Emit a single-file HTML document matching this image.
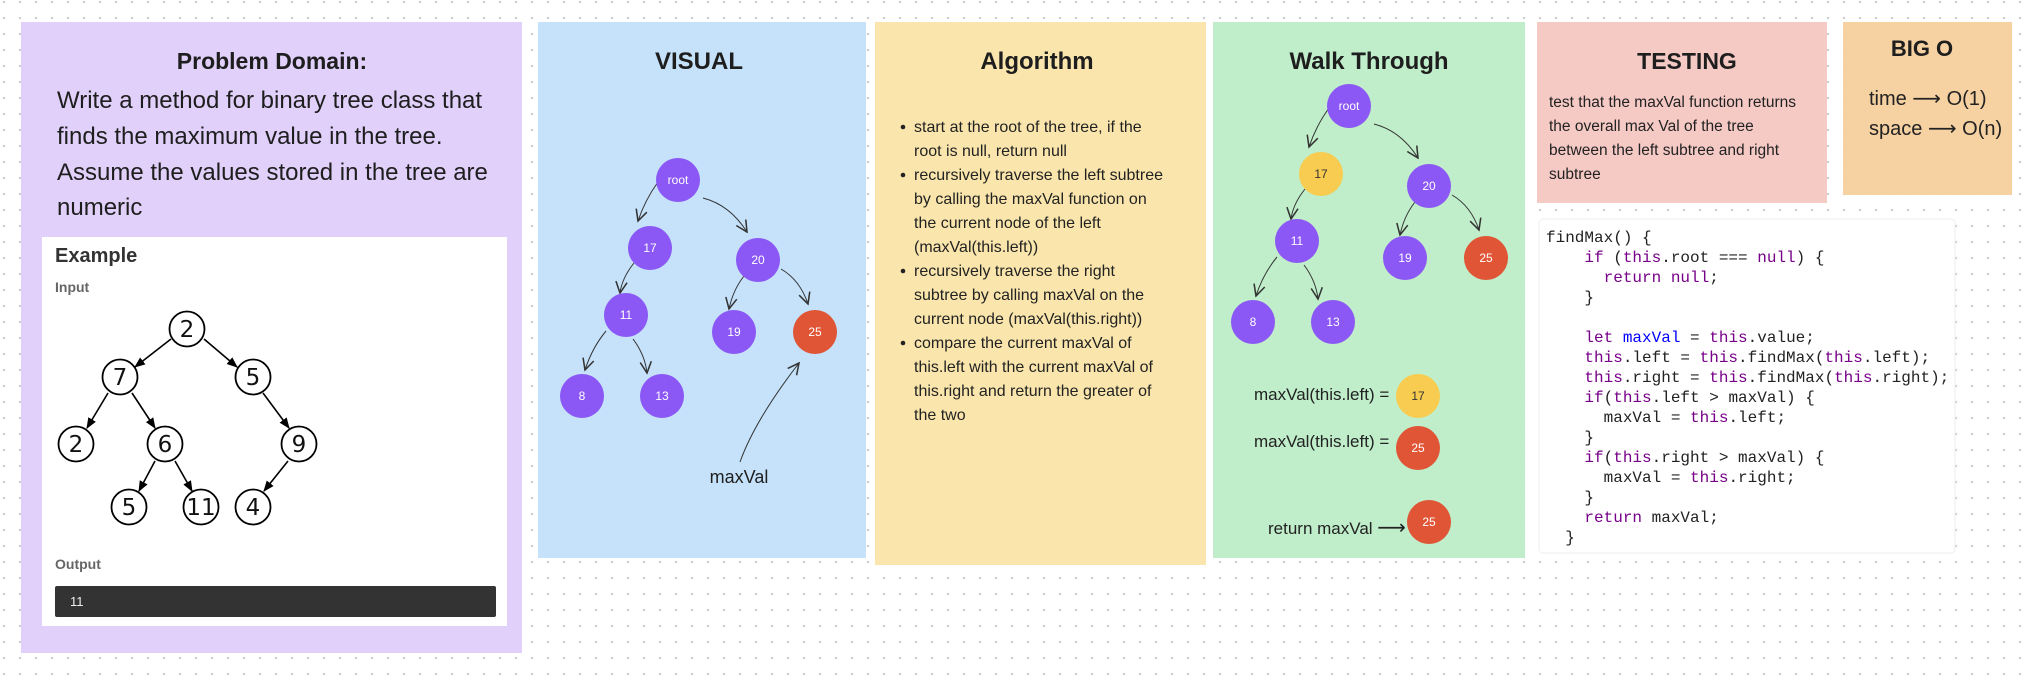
<!DOCTYPE html>
<html><head><meta charset="utf-8"><style>
html,body{margin:0;padding:0;}
body{width:2030px;height:682px;overflow:hidden;background-color:#fff;
background-image:radial-gradient(circle,#cfcfcf 1.1px,transparent 1.4px);
background-size:16px 16px;background-position:-4px -6px;}
svg{position:absolute;left:0;top:0;}
text{font-family:"Liberation Sans",Arial,sans-serif;}
.m text{font-family:"Liberation Mono",monospace;font-size:16px;fill:#222;}
.k{fill:#770088;} .v{fill:#0000ff;}
.nt{fill:#fff;font-size:12px;text-anchor:middle;dominant-baseline:central;}
text.ex{font-family:"DejaVu Sans",sans-serif;font-size:23px;text-anchor:middle;dominant-baseline:central;fill:#111;}
.ar{font-family:"DejaVu Sans",sans-serif;}
</style></head><body>
<svg width="2030" height="682" viewBox="0 0 2030 682">
<defs>
<marker id="oa" viewBox="0 0 10 10" refX="9" refY="5" markerWidth="14" markerHeight="14" orient="auto" markerUnits="userSpaceOnUse">
<path d="M1,1 L9,5 L1,9" fill="none" stroke="#333" stroke-width="1.1"/></marker>
<marker id="fa" viewBox="0 0 10 10" refX="9" refY="5" markerWidth="11" markerHeight="11" orient="auto" markerUnits="userSpaceOnUse">
<path d="M0,1 L10,5 L0,9 Z" fill="#000"/></marker>
<g id="tree">
<g fill="none" stroke="#333" stroke-width="1" marker-end="url(#oa)">
<path d="M658,182 Q645,200 638,221"/>
<path d="M703,198 Q730,205 747,232"/>
<path d="M634,263 Q622,278 620,293"/>
<path d="M744,276 Q733,290 729,309"/>
<path d="M781,269 Q800,280 808,304"/>
<path d="M606,331 Q592,348 585,370"/>
<path d="M633,339 Q645,355 647,373"/>
</g>
</g>
</defs>

<rect x="21" y="22" width="501" height="631" fill="#e0d0fa"/>
<text x="272" y="69" font-size="23" font-weight="bold" text-anchor="middle" fill="#1e1e1e">Problem Domain:</text>
<g font-size="24" fill="#1e1e1e">
<text x="57" y="108">Write a method for binary tree class that</text>
<text x="57" y="144">finds the maximum value in the tree.</text>
<text x="57" y="180">Assume the values stored in the tree are</text>
<text x="57" y="215">numeric</text>
</g>
<rect x="42" y="237" width="465" height="389" fill="#fff"/>
<text x="55" y="262" font-size="20" font-weight="bold" fill="#333">Example</text>
<text x="55" y="292" font-size="14" font-weight="bold" fill="#666">Input</text>
<g stroke="#000" stroke-width="1.6" marker-end="url(#fa)">
<line x1="171" y1="339" x2="135" y2="367"/>
<line x1="204" y1="339" x2="237" y2="367"/>
<line x1="108" y1="393" x2="87" y2="428"/>
<line x1="132" y1="393" x2="155" y2="428"/>
<line x1="263" y1="393" x2="289" y2="428"/>
<line x1="155" y1="461" x2="139" y2="491"/>
<line x1="175" y1="461" x2="192" y2="491"/>
<line x1="288" y1="461" x2="264" y2="491"/>
</g>
<g fill="#fff" stroke="#000" stroke-width="1.8">
<circle cx="187" cy="329" r="17.5"/><circle cx="120" cy="377" r="17.5"/><circle cx="253" cy="377" r="17.5"/>
<circle cx="76" cy="444" r="17.5"/><circle cx="165" cy="444" r="17.5"/><circle cx="299" cy="444" r="17.5"/>
<circle cx="129" cy="507" r="17.5"/><circle cx="201" cy="507" r="17.5"/><circle cx="253" cy="507" r="17.5"/>
</g>
<text class="ex" x="187" y="330">2</text><text class="ex" x="120" y="378">7</text><text class="ex" x="253" y="378">5</text>
<text class="ex" x="76" y="445">2</text><text class="ex" x="165" y="445">6</text><text class="ex" x="299" y="445">9</text>
<text class="ex" x="129" y="508">5</text><text class="ex" x="201" y="508">11</text><text class="ex" x="253" y="508">4</text>
<text x="55" y="569" font-size="14" font-weight="bold" fill="#666">Output</text>
<rect x="55" y="586" width="441" height="31" rx="2" fill="#333"/>
<text x="70" y="606" font-size="13" fill="#eee">11</text>

<rect x="538" y="22" width="328" height="536" fill="#c5e2fa"/>
<text x="699" y="69" font-size="24" font-weight="bold" text-anchor="middle" fill="#1e1e1e">VISUAL</text>
<use href="#tree"/>
<g fill="#8b57f5">
<circle cx="678" cy="180" r="22"/><circle cx="650" cy="248" r="22"/><circle cx="758" cy="260" r="22"/>
<circle cx="626" cy="315" r="22"/><circle cx="734" cy="332" r="22"/><circle cx="582" cy="396" r="22"/><circle cx="662" cy="396" r="22"/>
</g>
<circle cx="815" cy="332" r="22" fill="#e05536"/>
<text class="nt" x="678" y="180">root</text><text class="nt" x="650" y="248">17</text><text class="nt" x="758" y="260">20</text>
<text class="nt" x="626" y="315">11</text><text class="nt" x="734" y="332">19</text><text class="nt" x="815" y="332">25</text>
<text class="nt" x="582" y="396">8</text><text class="nt" x="662" y="396">13</text>
<path d="M740,462 Q755,420 799,363" fill="none" stroke="#333" stroke-width="1" marker-end="url(#oa)"/>
<text x="739" y="483" font-size="18" text-anchor="middle" fill="#1e1e1e">maxVal</text>

<rect x="875" y="22" width="331" height="543" fill="#fae6ac"/>
<text x="1037" y="69" font-size="24" font-weight="bold" text-anchor="middle" fill="#1e1e1e">Algorithm</text>
<g fill="#222"><circle cx="903" cy="127" r="2.3"/><circle cx="903" cy="175" r="2.3"/><circle cx="903" cy="271" r="2.3"/><circle cx="903" cy="343" r="2.3"/></g>
<g font-size="16" fill="#222">
<text x="914" y="132">start at the root of the tree, if the</text>
<text x="914" y="156">root is null, return null</text>
<text x="914" y="180">recursively traverse the left subtree</text>
<text x="914" y="204">by calling the maxVal function on</text>
<text x="914" y="228">the current node of the left</text>
<text x="914" y="252">(maxVal(this.left))</text>
<text x="914" y="276">recursively traverse the right</text>
<text x="914" y="300">subtree by calling maxVal on the</text>
<text x="914" y="324">current node (maxVal(this.right))</text>
<text x="914" y="348">compare the current maxVal of</text>
<text x="914" y="372">this.left with the current maxVal of</text>
<text x="914" y="396">this.right and return the greater of</text>
<text x="914" y="420">the two</text>
</g>

<rect x="1213" y="22" width="312" height="536" fill="#c0eeca"/>
<text x="1369" y="69" font-size="24" font-weight="bold" text-anchor="middle" fill="#1e1e1e">Walk Through</text>
<use href="#tree" transform="translate(671,-74)"/>
<g fill="#8b57f5">
<circle cx="1349" cy="106" r="22"/><circle cx="1429" cy="186" r="22"/>
<circle cx="1297" cy="241" r="22"/><circle cx="1405" cy="258" r="22"/><circle cx="1253" cy="322" r="22"/><circle cx="1333" cy="322" r="22"/>
</g>
<circle cx="1321" cy="174" r="22" fill="#f7cc50"/>
<circle cx="1486" cy="258" r="22" fill="#e05536"/>
<text class="nt" x="1349" y="106">root</text><text class="nt" x="1321" y="174" style="fill:#333">17</text><text class="nt" x="1429" y="186">20</text>
<text class="nt" x="1297" y="241">11</text><text class="nt" x="1405" y="258">19</text><text class="nt" x="1486" y="258">25</text>
<text class="nt" x="1253" y="322">8</text><text class="nt" x="1333" y="322">13</text>
<g font-size="17" fill="#222">
<text x="1254" y="400">maxVal(this.left) =</text>
<text x="1254" y="447">maxVal(this.left) =</text>
<text x="1268" y="534">return maxVal <tspan class="ar" font-size="20">⟶</tspan></text>
</g>
<circle cx="1418" cy="396" r="22" fill="#f7cc50"/>
<circle cx="1418" cy="448" r="22" fill="#e05536"/>
<circle cx="1429" cy="522" r="22" fill="#e05536"/>
<text class="nt" x="1418" y="396" style="fill:#333">17</text>
<text class="nt" x="1418" y="448">25</text>
<text class="nt" x="1429" y="522">25</text>

<rect x="1537" y="22" width="290" height="181" fill="#f5c9c4"/>
<text x="1687" y="69" font-size="23" font-weight="bold" text-anchor="middle" fill="#1e1e1e">TESTING</text>
<g font-size="15.5" fill="#222">
<text x="1549" y="107">test that the maxVal function returns</text>
<text x="1549" y="131">the overall max Val of the tree</text>
<text x="1549" y="155">between the left subtree and right</text>
<text x="1549" y="179">subtree</text>
</g>

<rect x="1843" y="22" width="169" height="173" fill="#f6d1a1"/>
<text x="1922" y="56" font-size="22" font-weight="bold" text-anchor="middle" fill="#1e1e1e">BIG O</text>
<text x="1869" y="105" font-size="20" fill="#222">time <tspan class="ar" font-size="20">⟶</tspan> O(1)</text>
<text x="1869" y="135" font-size="20" fill="#222">space <tspan class="ar" font-size="20">⟶</tspan> O(n)</text>

<rect x="1539" y="219" width="416" height="334" rx="4" fill="#fff" stroke="#eee"/>
<g class="m">
<text x="1546" y="242">findMax() {</text>
<text x="1546" y="262" xml:space="preserve">    <tspan class="k">if</tspan> (<tspan class="k">this</tspan>.root === <tspan class="k">null</tspan>) {</text>
<text x="1546" y="282" xml:space="preserve">      <tspan class="k">return</tspan> <tspan class="k">null</tspan>;</text>
<text x="1546" y="302" xml:space="preserve">    }</text>
<text x="1546" y="342" xml:space="preserve">    <tspan class="k">let</tspan> <tspan class="v">maxVal</tspan> = <tspan class="k">this</tspan>.value;</text>
<text x="1546" y="362" xml:space="preserve">    <tspan class="k">this</tspan>.left = <tspan class="k">this</tspan>.findMax(<tspan class="k">this</tspan>.left);</text>
<text x="1546" y="382" xml:space="preserve">    <tspan class="k">this</tspan>.right = <tspan class="k">this</tspan>.findMax(<tspan class="k">this</tspan>.right);</text>
<text x="1546" y="402" xml:space="preserve">    <tspan class="k">if</tspan>(<tspan class="k">this</tspan>.left &gt; maxVal) {</text>
<text x="1546" y="422" xml:space="preserve">      maxVal = <tspan class="k">this</tspan>.left;</text>
<text x="1546" y="442" xml:space="preserve">    }</text>
<text x="1546" y="462" xml:space="preserve">    <tspan class="k">if</tspan>(<tspan class="k">this</tspan>.right &gt; maxVal) {</text>
<text x="1546" y="482" xml:space="preserve">      maxVal = <tspan class="k">this</tspan>.right;</text>
<text x="1546" y="502" xml:space="preserve">    }</text>
<text x="1546" y="522" xml:space="preserve">    <tspan class="k">return</tspan> maxVal;</text>
<text x="1546" y="542" xml:space="preserve">  }</text>
</g>
</svg>
</body></html>
